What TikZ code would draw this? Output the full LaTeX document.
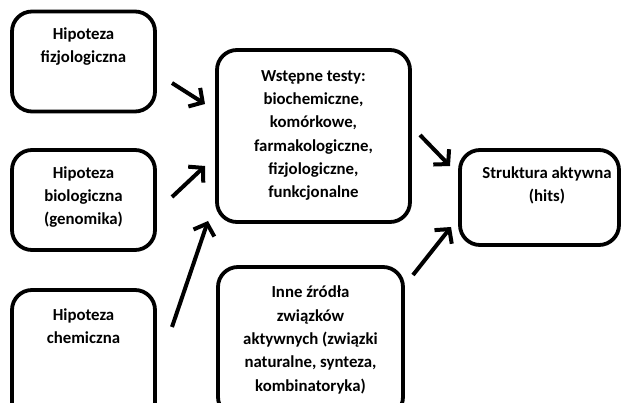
\documentclass[tikz,border=0pt]{standalone}
\usepackage{fontspec}
\setmainfont{Carlito}
\usetikzlibrary{arrows.meta}
\tikzset{
  box/.style={draw, line width=3.8pt, rounded corners=20pt, inner sep=0pt},
  txt/.style={align=center, inner sep=0pt, font=\bfseries\fontsize{16.8}{23.3}\selectfont},
  arr/.style={line width=4pt, -{Straight Barb[length=10pt,width=22pt]}}
}
\begin{document}
\begin{tikzpicture}[x=1pt,y=-1pt]
\useasboundingbox (0,0) rectangle (621,403);
\clip (0,0) rectangle (621,403);
\fill[white] (0,0) rectangle (621,403);
% boxes
\node[box, minimum width=143pt, minimum height=100pt] (b1) at (83.5,61.5) {};
\node[box, minimum width=143pt, minimum height=100pt] (b2) at (83.5,200) {};
\node[box, minimum width=143pt, minimum height=140pt] (b3) at (83.5,360) {};
\node[box, minimum width=193pt, minimum height=172pt] (bc) at (313.5,136) {};
\node[box, minimum width=159pt, minimum height=95pt] (bs) at (539.5,197.5) {};
\node[box, minimum width=185pt, minimum height=150pt] (bi) at (310.5,342) {};
% texts
\node[txt] (t1) at (83.5,46.5) {Hipoteza\\fizjologiczna};
\node[txt] (t2) at (83.5,197) {Hipoteza\\biologiczna\\(genomika)};
\node[txt] (t3) at (83.5,326) {Hipoteza\\chemiczna};
\node[txt] (tc) at (313.5,135.5) {Wstępne testy:\\biochemiczne,\\komórkowe,\\farmakologiczne,\\fizjologiczne,\\funkcjonalne};
\node[txt] (ts) at (547,185.5) {Struktura aktywna\\(hits)};
\node[txt] (ti) at (310.5,340) {Inne źródła\\związków\\aktywnych (związki\\naturalne, synteza,\\kombinatoryka)};
% arrows
\coordinate (a1s) at (172,83);  \coordinate (a1e) at (205,104);
\coordinate (a2s) at (172,197); \coordinate (a2e) at (205,166);
\coordinate (a3s) at (172,327); \coordinate (a3e) at (208,221);
\coordinate (a4s) at (420,135); \coordinate (a4e) at (450,166);
\coordinate (a5s) at (413,275); \coordinate (a5e) at (451,227);
\draw[arr] (a1s) -- (a1e);
\draw[arr] (a2s) -- (a2e);
\draw[arr] (a3s) -- (a3e);
\draw[arr] (a4s) -- (a4e);
\draw[arr] (a5s) -- (a5e);
\end{tikzpicture}
\end{document}
